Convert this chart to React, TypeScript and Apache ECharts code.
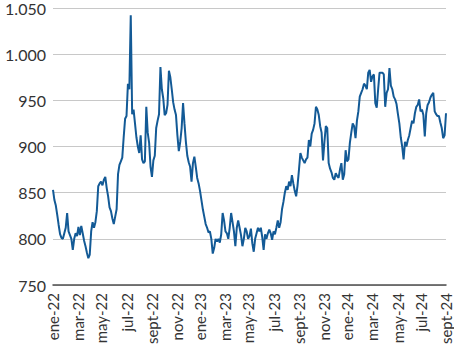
import React, { useEffect, useRef } from "react";
import * as echarts from "echarts";

// Twice-weekly observations (Monday and Thursday) starting Monday 3 Jan 2022
const START_DATE = "2022-01-03";
const values2022 = [
  853, 842, 836, 826, 815, 805, 801, 800, 806, 812, 828, 808, 804, 800, 788, 800, 806, 803, 813, 804,
  814, 806, 798, 792, 785, 779, 783, 808, 818, 812, 818, 830, 857, 860, 862, 858, 864, 867, 855, 846,
  834, 830, 822, 816, 824, 832, 870, 880, 884, 888, 910, 930, 933, 968, 962, 1042, 935, 940, 925, 910,
  900, 893, 912, 886, 882, 884, 943, 915, 904, 878, 867, 885, 890, 920, 928, 935, 986, 962, 952, 934,
  936, 945, 982, 975, 962, 948, 940, 934, 912, 895, 905, 920, 947, 925, 905, 890, 883, 878, 862, 882,
  889, 878, 866, 860,
];
const values2023 = [
  852, 842, 832, 824, 816, 812, 807, 808, 800, 784, 790, 800, 797, 800, 796, 805,
  828, 820, 808, 806, 800, 812, 828, 818, 808, 792, 812, 820, 812, 804, 792, 800, 812, 808, 800, 803,
  811, 795, 786, 800, 806, 812, 808, 812, 802, 788, 805, 800, 806, 810, 806, 799, 808, 805, 812, 820,
  812, 818, 832, 840, 850, 857, 853, 862, 857, 869, 860, 852, 846, 858, 875, 893, 888, 885, 882, 886,
  888, 907, 900, 914, 918, 925, 943, 940, 934, 922, 915, 885, 905, 922, 920, 882, 876, 872, 866, 864,
  871, 868, 866, 875, 882, 864, 870, 896,
];
const values2024 = [
  884, 886, 904, 915, 925, 922, 909, 928, 938, 954, 958, 962,
  968, 966, 962, 980, 983, 970, 976, 978, 947, 942, 962, 980, 980, 980, 978, 943, 958, 962, 985, 966,
  962, 954, 951, 946, 935, 925, 910, 900, 886, 905, 900, 907, 912, 920, 928, 925, 936, 943, 945, 951,
  938, 940, 934, 911, 936, 945, 948, 953, 956, 958, 938, 935, 933, 933, 926, 920, 909, 912, 936,
];
const monthNames = ["ene", "feb", "mar", "abr", "may", "jun", "jul", "ago", "sept", "oct", "nov", "dic"];
const yTicks = { min: 750, max: 1050, interval: 50 };

const seriesValues = [...values2022, ...values2023, ...values2024];

function buildDates(n: number): string[] {
  const out: string[] = [];
  const d0 = new Date(START_DATE + "T00:00:00Z");
  for (let i = 0; i < n; i++) {
    const days = Math.floor(i / 2) * 7 + (i % 2 === 1 ? 3 : 0);
    const d = new Date(d0.getTime() + days * 86400000);
    out.push(d.toISOString().slice(0, 10));
  }
  return out;
}

const dates = buildDates(seriesValues.length);

function isLabelPoint(idx: number): boolean {
  if (idx % 2 !== 0) return false;
  const s = dates[idx];
  const m = parseInt(s.slice(5, 7), 10);
  const day = parseInt(s.slice(8, 10), 10);
  return m % 2 === 1 && day <= 7;
}

function fmtDate(s: string): string {
  const m = parseInt(s.slice(5, 7), 10);
  return monthNames[m - 1] + "-" + s.slice(2, 4);
}

function fmtNum(v: number): string {
  return String(v).replace(/\B(?=(\d{3})+(?!\d))/g, ".");
}

export default function App() {
  const ref = useRef<HTMLDivElement>(null);
  useEffect(() => {
    if (!ref.current) return;
    const chart = echarts.init(ref.current, undefined, { renderer: "svg" });
    chart.setOption({
      animation: false,
      grid: { left: 53, right: 8, top: 8, bottom: 67, containLabel: false },
      xAxis: {
        type: "category",
        data: dates,
        boundaryGap: false,
        axisLine: { show: true, lineStyle: { color: "#4d4d4d", width: 1.5 } },
        axisTick: { show: false },
        axisLabel: {
          rotate: 90,
          interval: (idx: number) => isLabelPoint(idx),
          formatter: (v: string) => fmtDate(v),
          fontFamily: "Lato",
          fontSize: 15,
          color: "#333",
          margin: 8,
          hideOverlap: false,
        },
        splitLine: { show: false },
      },
      yAxis: {
        type: "value",
        min: yTicks.min,
        max: yTicks.max,
        interval: yTicks.interval,
        axisLine: { show: false },
        axisTick: { show: false },
        axisLabel: {
          formatter: (v: number) => fmtNum(v),
          fontFamily: "Lato",
          fontSize: 16,
          color: "#333",
          margin: 7,
        },
        splitLine: { show: true, lineStyle: { color: "#c8c8c8", width: 1 } },
      },
      series: [
        {
          type: "line",
          data: seriesValues,
          showSymbol: false,
          symbol: "none",
          lineStyle: { color: "#135a96", width: 2 },
          itemStyle: { color: "#135a96" },
        },
      ],
    });
    return () => chart.dispose();
  }, []);
  return (
    <div
      ref={ref}
      style={{ position: "absolute", left: 0, top: 0, width: 454, height: 352 }}
    />
  );
}
